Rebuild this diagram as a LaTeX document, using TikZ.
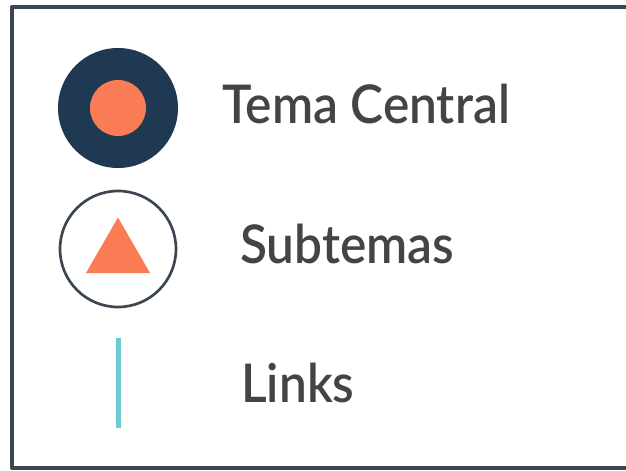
\documentclass[tikz,border=0pt]{standalone}
\usepackage{fontspec}
\setmainfont{Lato}[BoldFont={Lato Semibold},BoldFeatures={FakeStretch=0.93}]
\usetikzlibrary{shapes.geometric}
\definecolor{marino}{HTML}{1F3953}
\definecolor{naranja}{HTML}{FA7C55}
\definecolor{turquesa}{HTML}{6CC9D3}
\definecolor{marco}{HTML}{3B4651}
\definecolor{texto}{HTML}{444444}

\begin{document}
\begin{tikzpicture}[line cap=round,line join=round,x=0.75pt,y=-0.75pt,
	etiqueta/.style={anchor=base west,inner sep=0pt,text=texto,font=\bfseries\fontsize{40}{48}\selectfont}]
		\useasboundingbox (0,0) rectangle (626,471);
		\clip (0,0) rectangle (626,471);
		%%%%%%%%%%%%%%%%%%%%% M A R C O %%%%%%%%%%%%%%%%%%%%%
		\draw [line width=3pt,color=marco] (12,7) rectangle (660,468);
		%%%% TEMA CENTRAL
		\node [circle,fill=marino,inner sep=0pt,minimum size=90pt] (central) at (118,108) {};
		\node [circle,fill=naranja,inner sep=0pt,minimum size=42pt] (nucleo) at (central) {};
		%%%% SUBTEMAS
		\node [circle,draw=marco,line width=2pt,inner sep=0pt,minimum size=87pt] (subtema) at (118,249) {};
		\node [regular polygon,regular polygon sides=3,fill=naranja,inner sep=0pt,minimum size=55.5pt] (triangulo) at (118,254.5) {};
		%%%% LINKS
		\coordinate (link1) at (118,338);
		\coordinate (link2) at (118,428);
		\draw [line width=3.75pt,line cap=butt,color=turquesa] (link1) -- (link2);
		%TEXTOS
		\node [etiqueta] (tcentral) at (222,123) {Tema Central};
		\node [etiqueta] (tsub) at (240,263) {Subtemas};
		\node [etiqueta] (tlinks) at (241,402) {Links};
	\end{tikzpicture}
\end{document}
